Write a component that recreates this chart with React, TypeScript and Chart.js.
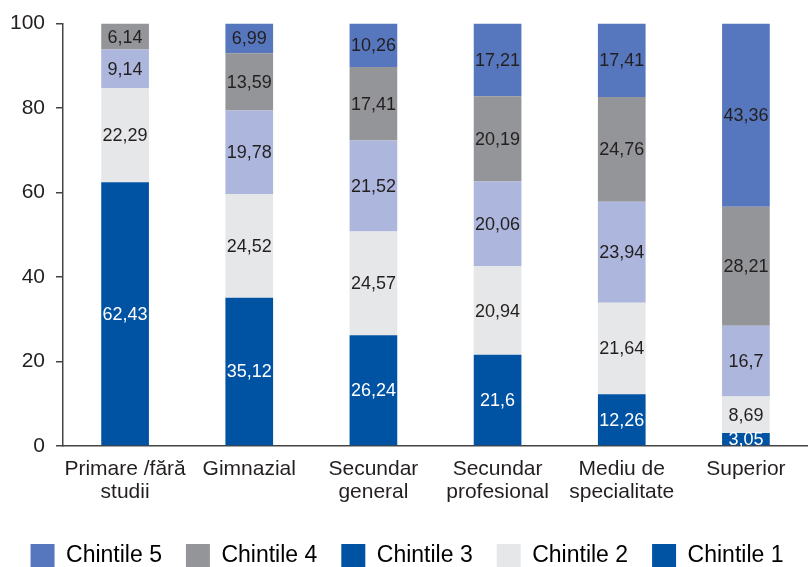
import React, { useEffect, useRef } from 'react';
import { Chart, registerables } from 'chart.js';

Chart.register(...registerables);

const categories: (string | string[])[] = [
  ['Primare /fără', 'studii'],
  'Gimnazial',
  ['Secundar', 'general'],
  ['Secundar', 'profesional'],
  ['Mediu de', 'specialitate'],
  'Superior',
];

const seriesNames = ['Chintile 1', 'Chintile 2', 'Chintile 3', 'Chintile 4', 'Chintile 5'];

const chintile1 = [62.43, 35.12, 26.24, 21.6, 12.26, 3.05];
const chintile2 = [22.29, 24.52, 24.57, 20.94, 21.64, 8.69];
const chintile3 = [9.14, 19.78, 21.52, 20.06, 23.94, 16.7];
const chintile4 = [6.14, 13.59, 17.41, 20.19, 24.76, 28.21];
const chintile5 = [null, 6.99, 10.26, 17.21, 17.41, 43.36];

const yTicks = [0, 20, 40, 60, 80, 100];

const barColors = ['#0052A2', '#E6E7E8', '#ADB7DD', '#939598', '#5677BD'];
const legendColors = ['#0052A2', '#E6E7E8', '#0052A2', '#939598', '#5677BD'];
const labelColors = ['#FFFFFF', '#231F20', '#231F20', '#231F20', '#231F20'];

const FONT = '"Liberation Sans", Arial, Helvetica, sans-serif';

const valueLabels = {
  id: 'valueLabels',
  afterDatasetsDraw(chart: any) {
    const ctx = chart.ctx;
    ctx.save();
    ctx.font = `18px ${FONT}`;
    ctx.textAlign = 'center';
    ctx.textBaseline = 'middle';
    chart.data.datasets.forEach((ds: any, di: number) => {
      const meta = chart.getDatasetMeta(di);
      meta.data.forEach((el: any, i: number) => {
        const v = ds.data[i];
        if (v === null || v === undefined) return;
        const { x, y, base } = el.getProps(['x', 'y', 'base'], true);
        ctx.fillStyle = labelColors[di];
        ctx.fillText(String(v).replace('.', ','), x, (y + base) / 2 + 1);
      });
    });
    ctx.restore();
  },
};

export default function App() {
  const ref = useRef<HTMLCanvasElement>(null);

  useEffect(() => {
    document.body.style.margin = '0';
    const series = [chintile1, chintile2, chintile3, chintile4, chintile5];
    const chart = new Chart(ref.current as HTMLCanvasElement, {
      type: 'bar',
      data: {
        labels: categories,
        datasets: series.map((d, i) => ({
          label: seriesNames[i],
          data: d,
          backgroundColor: barColors[i],
          borderWidth: 0,
          barPercentage: 0.384,
          categoryPercentage: 1,
        })),
      },
      options: {
        animation: false,
        responsive: false,
        maintainAspectRatio: false,
        layout: { padding: { top: 23, right: -6, bottom: -11, left: 0 } },
        scales: {
          x: {
            stacked: true,
            grid: { display: false, drawTicks: false },
            border: { display: true, color: '#444444', width: 1.5 },
            ticks: {
              color: '#231F20',
              font: { family: FONT, size: 21, lineHeight: 1.08 },
              padding: 12,
              maxRotation: 0,
              autoSkip: false,
            },
            afterFit: (s: any) => {
              s.height = 74;
            },
          },
          y: {
            stacked: true,
            min: 0,
            max: 100,
            afterBuildTicks: (s: any) => {
              s.ticks = yTicks.map((v) => ({ value: v }));
            },
            grid: {
              display: true,
              drawOnChartArea: false,
              drawTicks: true,
              tickLength: 7,
              color: '#444444',
              lineWidth: 1.5,
            },
            border: { display: true, color: '#444444', width: 1.5 },
            ticks: {
              color: '#231F20',
              font: { family: FONT, size: 21 },
              padding: 11,
            },
            afterFit: (s: any) => {
              s.width = 63;
            },
          },
        },
        plugins: {
          tooltip: { enabled: false },
          legend: {
            position: 'bottom',
            reverse: true,
            labels: {
              boxWidth: 24,
              boxHeight: 24,
              padding: 24,
              color: '#231F20',
              font: { family: FONT, size: 23 },
              generateLabels: (c: any) =>
                c.data.datasets.map((ds: any, i: number) => ({
                  text: ds.label,
                  fillStyle: legendColors[i],
                  strokeStyle: legendColors[i],
                  lineWidth: 0,
                  hidden: false,
                  datasetIndex: i,
                })),
            },
          },
        },
      },
      plugins: [valueLabels],
    } as any);
    return () => chart.destroy();
  }, []);

  return (
    <div style={{ width: 808, height: 567, position: 'relative' }}>
      <canvas ref={ref} width={808} height={567} style={{ display: 'block' }} />
    </div>
  );
}
